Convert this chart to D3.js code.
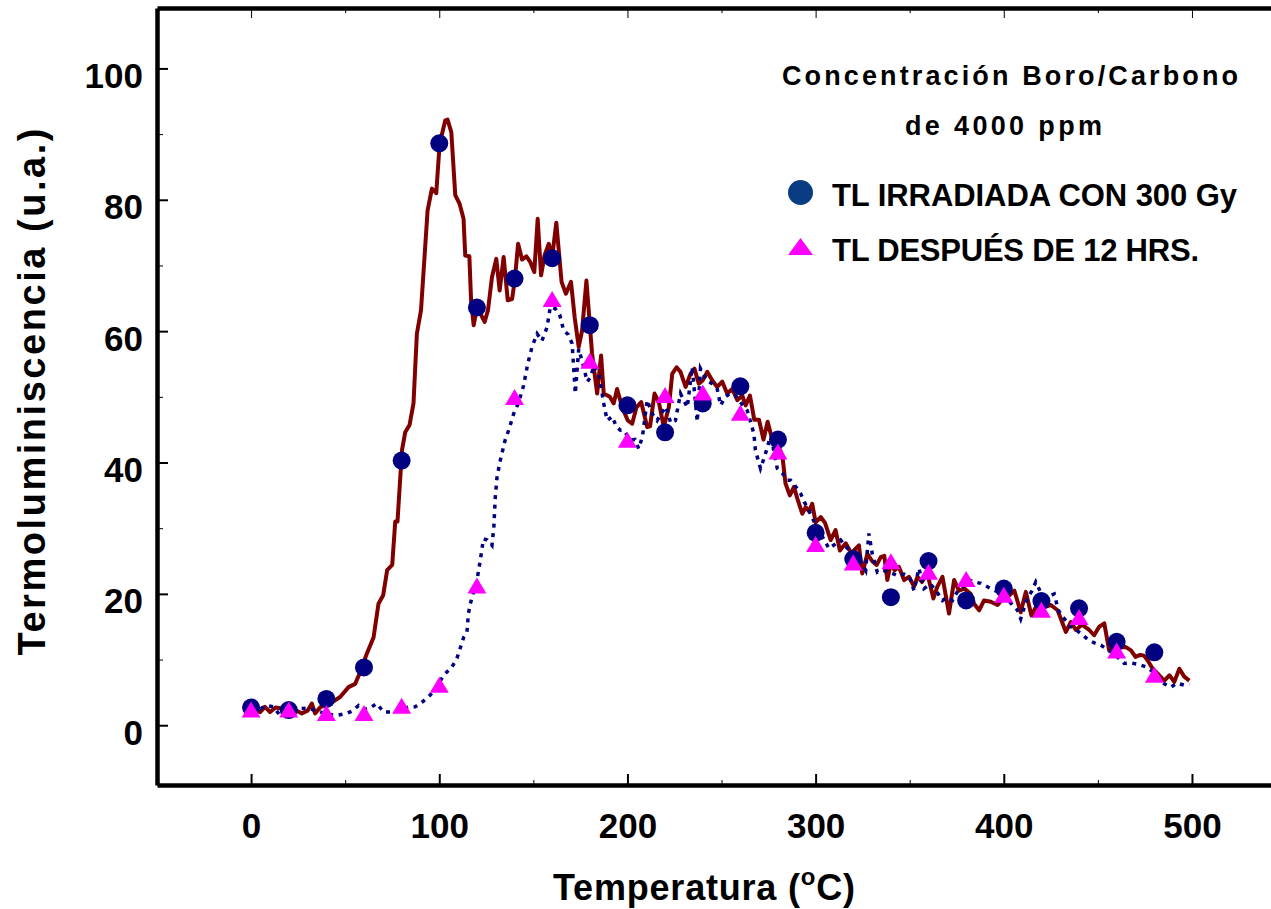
<!DOCTYPE html>
<html>
<head>
<meta charset="utf-8">
<script src="https://cdn.jsdelivr.net/npm/d3@7"></script>
<style>
  body { margin: 0; background: #fff; }
  svg { display: block; }
  text { font-family: "Liberation Sans", Arial, sans-serif; font-weight: bold; fill: #000; }
</style>
</head>
<body>
<svg id="chart" width="1271" height="909"></svg>
<script>
//
// Data
//

// temperatures where the markers sit
var markerTemps = [0, 20, 40, 60, 80, 100, 120, 140, 160, 180, 200, 220, 240, 260, 280, 300, 320, 340, 360, 380, 400, 420, 440, 460, 480];
var irradiadaMarks = [2.7, 2.3, 4.0, 8.8, 40.3, 88.6, 63.6, 68.0, 71.1, 60.9, 48.7, 44.6, 49.0, 51.6, 43.5, 29.3, 25.3, 19.5, 25.0, 19.0, 20.8, 18.9, 17.8, 12.7, 11.1];
var despuesMarks = [2.3, 2.3, 1.8, 1.8, 2.9, 6.1, 21.2, 49.9, 64.8, 55.4, 43.4, 50.2, 50.6, 47.5, 41.6, 27.5, 24.7, 24.9, 23.3, 22.2, 19.8, 17.5, 16.4, 11.3, 7.6];

// full glow curve, irradiated with 300 Gy  [temp, TL]
var irradiadaCurve = [[0,2.6],[2,2.3],[4.8,2.0],[7.4,2.8],[10.1,2.0],[13,2.7],[17.2,2.5],[20,2.2],[23,2.4],[27,1.8],[30,2.2],[32.3,3.3],[34,1.8],[37,2.8],[40,3.0],[42,3.3],[47.3,4.3],[51.8,5.8],[55.3,6.3],[58,8.1],[61.5,10.9],[65.1,13.4],[67.7,18.5],[70.2,19.8],[72.3,23.6],[75,24.4],[76.6,31],[77.8,31],[80.2,41.9],[81.9,44.6],[84.2,45.7],[86.3,49.0],[88.1,59.6],[90.3,63.2],[93.8,78.4],[96.1,81.7],[98.4,81.0],[100.2,88.5],[103.2,92.1],[104.4,92.2],[106.4,90.3],[108.5,80.7],[110.8,79.4],[112.9,77.1],[113.8,71.5],[116,71.4],[116.9,64.7],[118.3,60.9],[120.1,63.7],[121.8,62.7],[124.1,61.4],[125.9,63.2],[128,68.2],[130.3,71.0],[132.1,66.2],[134.2,71.3],[136.4,64.7],[138.7,64.9],[140.1,67.7],[141.9,73.3],[144,70.9],[146.3,71.4],[148.4,70.5],[150.5,69.0],[152.3,77.1],[154.1,68.5],[155.9,71.5],[158.2,73.3],[160,71.3],[162.2,76.5],[163.5,72.3],[165,67.5],[167.3,65.7],[170,67.5],[172,62],[174.1,57.6],[175.9,60.1],[178.2,67.7],[181.2,56.6],[183.9,50.5],[186,56.3],[187.4,50.5],[190.6,50.0],[192.7,49.0],[194.5,51.2],[197.2,48.4],[200.2,46.4],[202.5,45.9],[204.8,48.4],[207.3,49.2],[210.5,45.4],[212,45.5],[214.4,50.5],[216.7,49.2],[219.3,45.4],[222,48.4],[223.8,53.5],[226.1,54.5],[228.2,53.8],[230.9,51.5],[233.5,53.5],[235.6,54.3],[237.9,52.0],[240,52.5],[242.4,53.8],[245.1,52.5],[247.7,51.5],[250.4,52.3],[253,50.5],[255.7,51.2],[258.4,49.5],[261,50.2],[262.8,48.7],[265.1,50.2],[267.4,46.5],[269.9,46.5],[272.3,43.5],[274.5,46.2],[276.6,43.9],[279.6,42.9],[282.3,41.1],[284,36.8],[286.3,35.0],[288.5,36.3],[290.3,34.5],[292.9,32.2],[294.7,33.2],[296.5,32.6],[298.2,33.7],[300,30.9],[302.7,31.7],[305,30.8],[308,28.2],[310.6,29.7],[312.9,26.6],[316,27.7],[319,26.2],[323,27.4],[324.8,23.1],[327.5,26.1],[330,25],[332.4,24.4],[334.6,25.6],[336.5,25.8],[338.1,22.1],[339.9,24.6],[342,23.6],[344.3,24.1],[347,22.1],[349.6,22.6],[352.3,21.1],[354.1,22.6],[356.5,21.8],[359.4,23.1],[362.6,19.3],[364.7,21.1],[367.4,22.6],[370.9,17.0],[373.6,22.1],[376.2,20.5],[379,20.8],[382.4,20.0],[384.2,18.5],[386.9,17.5],[389.5,19.0],[393.1,18.8],[396.7,18.3],[400.2,19.5],[403,19.8],[405.6,20.5],[409,17.2],[411.7,20.3],[414.7,16.7],[418,18.5],[421.5,18.0],[425,18.3],[428.6,17.5],[433,14.2],[435.6,15.7],[438.3,14.5],[441.5,15.3],[445.4,14.5],[448,13.7],[450.7,15.0],[453.4,15.5],[456,11.4],[460,11.8],[464.9,11.9],[467.6,11.4],[470,10.4],[472.5,10.7],[474.5,10.6],[476.4,9.9],[479.1,8.6],[482,7.8],[485.3,6.8],[488,7.6],[490.6,6.6],[493.3,8.6],[495.9,7.4],[498.6,6.8]];

// glow curve read 12 hours later  [temp, TL]
var despuesCurve = [[0,2.3],[5,2.5],[8,3.0],[11.9,2.8],[15.4,1.5],[20,2.0],[25.2,2.5],[30,2.6],[35,2.2],[40,1.7],[45.6,1.5],[50.9,1.8],[54,2.2],[57.1,3.0],[60,2.4],[63,2.6],[66.8,3.3],[70.4,2.0],[75.7,2.0],[80,2.5],[84,2.8],[87.2,2.8],[90.8,3.5],[95.2,4.6],[98,5.5],[102.3,7.6],[106.8,8.9],[109.4,10.2],[113,13.4],[114.7,14.2],[115.5,17.0],[116.5,18.5],[118,20],[120,22],[122,25.5],[123.5,28.4],[125.5,28.2],[128,27.4],[129,30.2],[129.8,34.8],[130.7,37.8],[132.4,40.3],[135,43.4],[137,45],[139.5,47.4],[142,49],[144.8,51.7],[147,55],[149.3,57.6],[152,59.6],[154.5,58.5],[157.3,60.6],[159,63.7],[161.7,63.4],[164,62.5],[166.1,60.1],[168.5,59.5],[170.6,58.1],[172.3,50.5],[174.1,57.3],[176.8,54.5],[178.6,52.3],[180.5,53],[182.1,54.8],[184.8,53.5],[187.4,49.0],[189.2,46.4],[192,47],[194,45.5],[196.3,44.9],[198,44.9],[201.6,43.4],[204,43.5],[206,42.1],[208,44],[210.5,49.5],[213,47.5],[215.8,46.4],[218,47.5],[220.5,48.5],[223,46],[225.5,46.4],[228.2,50.5],[231.8,48.4],[234.4,54.5],[237.1,46.2],[238.8,54.3],[242,52.5],[245,52],[247.7,51.2],[249.5,48.7],[252,50],[254.5,50.5],[257.4,50.2],[260.5,49],[263.7,47.9],[267.2,44.4],[268,41.9],[270.7,39.1],[273,41],[275,43],[277,42.9],[279.6,39.1],[283.2,38.1],[284.9,37.3],[286.7,37.3],[289,36.5],[292,35.3],[294,34],[296.4,32.7],[300,30.5],[303.6,28.7],[307.1,26.9],[310,27.5],[313.3,28.2],[316,27.2],[319,26.3],[322,25.6],[324,25],[326.6,23.6],[328.3,29.2],[330.1,26.1],[332.8,23.3],[336,23.6],[340,23.2],[343.4,22.8],[347,23],[350,22.5],[352.3,20.5],[354.9,23.9],[357.6,20.8],[361,21.5],[364,20.5],[367.4,19.0],[370,19.5],[372.7,19.0],[375,20.2],[378,21],[381.6,22.1],[384.5,21.8],[387.8,21.6],[390.5,21.2],[393.1,20.8],[397,20.3],[401,19.5],[404,18.5],[407.3,17.5],[409,16.2],[412,19],[415,20.5],[417,21.8],[420,20],[423,19.5],[426.8,20.0],[429,17.5],[431.2,16.5],[433.5,15.8],[435.6,15.0],[438.5,14.5],[441.5,13.8],[445.4,12.9],[448.5,12.5],[451.6,12.2],[455,11.5],[458,11],[461,10.2],[464,9.4],[467.5,9.5],[471,9.3],[475.5,8.9],[479,8.2],[482,7.2],[485.3,6.3],[488.8,5.8],[492,6.4],[495.9,6.1],[498.6,6.3]];

// tick values
var xMajor = [0, 100, 200, 300, 400, 500];
var xMinor = [50, 150, 250, 350, 450];
var yMajor = [0, 20, 40, 60, 80, 100];
var yMinor = [10, 30, 50, 70, 90];

//
// Scales and frame
//
var svg = d3.select("#chart");
var plotLeft = 157, plotRight = 1271, plotTop = 8, plotBottom = 785;

var x = d3.scaleLinear().domain([-50, 542]).range([plotLeft, plotRight]);
var y = d3.scaleLinear().domain([-9.1, 109.2]).range([plotBottom, plotTop]);

//minor ticks first, no labels
svg.append("g")
  .attr("transform", "translate(0," + plotBottom + ")")
  .call(d3.axisBottom(x).tickValues(xMinor).tickSize(-5).tickFormat(""))
  .call(function(g) { g.select(".domain").remove(); });
svg.append("g")
  .attr("transform", "translate(0," + plotTop + ")")
  .call(d3.axisTop(x).tickValues(xMinor).tickSize(-5).tickFormat(""))
  .call(function(g) { g.select(".domain").remove(); });
svg.append("g")
  .attr("transform", "translate(0," + plotTop + ")")
  .call(d3.axisTop(x).tickValues(xMajor).tickSize(-10).tickSizeOuter(0).tickFormat(""))
  .call(function(g) { g.select(".domain").attr("stroke-width", 4.5); });
svg.append("g")
  .attr("transform", "translate(" + plotLeft + ",0)")
  .call(d3.axisLeft(y).tickValues(yMinor).tickSize(-6).tickFormat(""))
  .call(function(g) { g.select(".domain").remove(); });

//bottom axis with labels
var xAxis = svg.append("g")
  .attr("transform", "translate(0," + plotBottom + ")")
  .call(d3.axisBottom(x).tickValues(xMajor).tickSize(-11).tickSizeOuter(0));
xAxis.select(".domain").attr("stroke-width", 4.5);
xAxis.selectAll(".tick line").attr("stroke-width", 2);
xAxis.selectAll("text")
  .attr("y", 53).attr("dy", null)
  .style("font-size", "35px");

//left axis with labels
var yAxis = svg.append("g")
  .attr("transform", "translate(" + plotLeft + ",0)")
  .call(d3.axisLeft(y).tickValues(yMajor).tickSize(-11).tickSizeOuter(0));
yAxis.select(".domain").attr("stroke-width", 4.5);
yAxis.selectAll(".tick line").attr("stroke-width", 2);
yAxis.selectAll("text")
  .attr("x", -14).attr("y", 19).attr("dy", null)
  .style("font-size", "35px");

svg.selectAll(".tick line").attr("stroke", "#000");
svg.selectAll(".tick text").attr("fill", "#000").attr("font-family", null);

//
// Curves
//
var line = d3.line()
  .x(function(d) { return x(d[0]); })
  .y(function(d) { return y(d[1]); });

svg.append("path")
  .datum(irradiadaCurve)
  .attr("d", line)
  .attr("fill", "none")
  .attr("stroke", "#800000")
  .attr("stroke-width", 4)
  .attr("stroke-linejoin", "round");

svg.append("path")
  .datum(despuesCurve)
  .attr("d", line)
  .attr("fill", "none")
  .attr("stroke", "#000080")
  .attr("stroke-width", 3.5)
  .attr("stroke-dasharray", "4,5.5");

//
// Markers
//
var irrPts = markerTemps.map(function(t, i) { return [t, irradiadaMarks[i]]; });
var despPts = markerTemps.map(function(t, i) { return [t, despuesMarks[i]]; });

svg.append("g").selectAll("circle")
  .data(irrPts)
  .enter().append("circle")
  .attr("cx", function(d) { return x(d[0]); })
  .attr("cy", function(d) { return y(d[1]); })
  .attr("r", 9)
  .attr("fill", "#000080");

var tri = "M0,-8.5L9.5,7.5L-9.5,7.5Z";
svg.append("g").selectAll("path")
  .data(despPts)
  .enter().append("path")
  .attr("d", tri)
  .attr("transform", function(d) { return "translate(" + x(d[0]) + "," + y(d[1]) + ")"; })
  .attr("fill", "#ff00ff");

//
// Axis titles
//
var xTitle = svg.append("text")
  .attr("x", 553).attr("y", 900)
  .attr("textLength", 302)
  .style("font-size", "36px");
xTitle.append("tspan").text("Temperatura (");
xTitle.append("tspan").attr("dy", -15).style("font-size", "24px").text("o");
xTitle.append("tspan").attr("dy", 15).text("C)");

svg.append("text")
  .attr("transform", "translate(45,392) rotate(-90)")
  .attr("text-anchor", "middle")
  .attr("textLength", 527)
  .style("font-size", "38px")
  .text("Termoluminiscencia (u.a.)");

//
// Legend
//
svg.append("text")
  .attr("x", 782).attr("y", 85)
  .attr("textLength", 456)
  .style("font-size", "27px")
  .text("Concentración Boro/Carbono");
svg.append("text")
  .attr("x", 905).attr("y", 135)
  .attr("textLength", 197)
  .style("font-size", "27px")
  .text("de 4000 ppm");

svg.append("circle")
  .attr("cx", 800.5).attr("cy", 192.5).attr("r", 12.5)
  .attr("fill", "#0a3c84");
svg.append("text")
  .attr("x", 832).attr("y", 206)
  .attr("textLength", 405)
  .style("font-size", "31px")
  .text("TL IRRADIADA CON 300 Gy");

svg.append("path")
  .attr("d", "M800.5,238L813,255L788,255Z")
  .attr("fill", "#ff00ff");
svg.append("text")
  .attr("x", 832).attr("y", 261)
  .attr("textLength", 367)
  .style("font-size", "31px")
  .text("TL DESPUÉS DE 12 HRS.");
</script>
</body>
</html>
